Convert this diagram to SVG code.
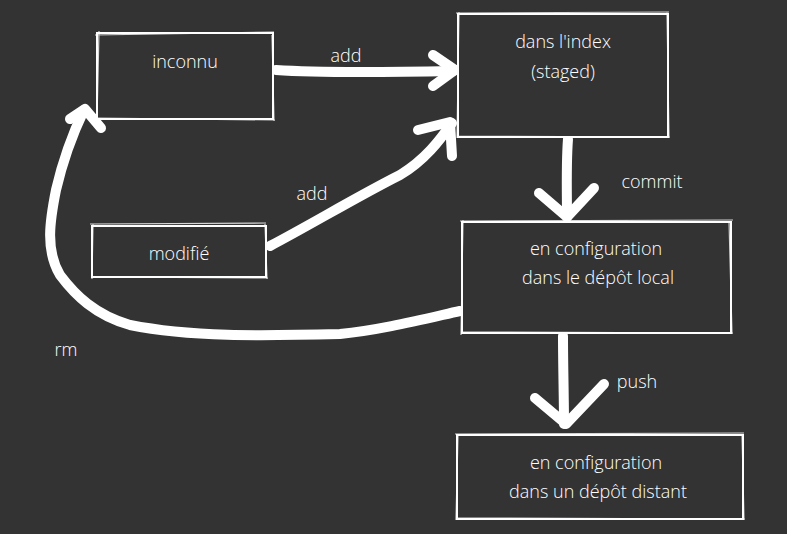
<svg xmlns="http://www.w3.org/2000/svg" width="787" height="534" viewBox="0 0 787 534">
<style>
.box{fill:#333333;stroke:#ffffff;stroke-width:2}
.sk{fill:none;stroke:#ffffff;stroke-width:1.2;opacity:0.8}
.lbl{fill:#ffffff;font-family:"Open Sans","Liberation Sans",sans-serif;font-weight:300;font-size:18px;text-anchor:middle}
.ln{fill:none;stroke:#ffffff;stroke-width:10;stroke-linecap:round;stroke-linejoin:round}
</style>
<rect width="787" height="534" fill="#333333"/>
<g id="connectors">
<path class="ln" d="M276,70 C320,73 400,72 453,71"/>
<path class="ln" d="M433,55 L455,70 L433,86"/>
<text class="lbl" x="346" y="62">add</text>
<path class="ln" d="M270,246 C310,225 360,195 400,175 C425,160 440,140 452,123"/>
<path class="ln" d="M418,130 L450,122 L452,156"/>
<text class="lbl" x="312" y="200">add</text>
<path class="ln" d="M568,139 C566,165 567,195 567,217"/>
<path class="ln" d="M539,193 L567,217 L594,188"/>
<text class="lbl" x="652" y="188">commit</text>
<path class="ln" d="M563,336 C563,365 564,400 564,424"/>
<path class="ln" d="M535,398 L566,424 L604,384"/>
<text class="lbl" x="637" y="388">push</text>
<path class="ln" d="M460,311 C420,320 380,330 340,334 C260,336 190,337 130,325 C95,315 75,295 60,275 C45,250 50,220 56,190 C63,160 72,135 84,110"/>
<path class="ln" d="M70,119 L85,109 L101,128"/>
<text class="lbl" x="66" y="356">rm</text>
</g>
<g id="inconnu">
<rect class="box" x="97" y="33" width="176" height="86"/>
<path class="sk" d="M95,35 L274,32 M99,31 L97,120 M272,35 L274,121 M96,118 L275,120"/>
<text class="lbl" x="185" y="68">inconnu</text>
</g>
<g id="index">
<rect class="box" x="458" y="14" width="210" height="123"/>
<path class="sk" d="M456,13 L669,12 M459,12 L457,138 M667,12 L669,138 M457,136 L670,137"/>
<text class="lbl" x="563" y="48">dans l'index</text>
<text class="lbl" x="563" y="78">(staged)</text>
</g>
<g id="modifie">
<rect class="box" x="92" y="226" width="174" height="51"/>
<path class="sk" d="M90,224 L266,223 M93,224 L92,279 M265,224 L267,279 M91,277 L268,278"/>
<text class="lbl" x="179" y="260">modifié</text>
</g>
<g id="local">
<rect class="box" x="462" y="222" width="269" height="111"/>
<path class="sk" d="M460,221 L733,220 M463,220 L461,335 M729,221 L732,334 M461,332 L733,333"/>
<text class="lbl" x="596" y="255">en configuration</text>
<text class="lbl" x="598" y="284">dans le dépôt local</text>
</g>
<g id="distant">
<rect class="box" x="457" y="435" width="286" height="84"/>
<path class="sk" d="M455,434 L744,433 M458,434 L456,520 M742,434 L744,520 M456,518 L745,519"/>
<text class="lbl" x="596" y="469">en configuration</text>
<text class="lbl" x="598" y="498">dans un dépôt distant</text>
</g>
</svg>
